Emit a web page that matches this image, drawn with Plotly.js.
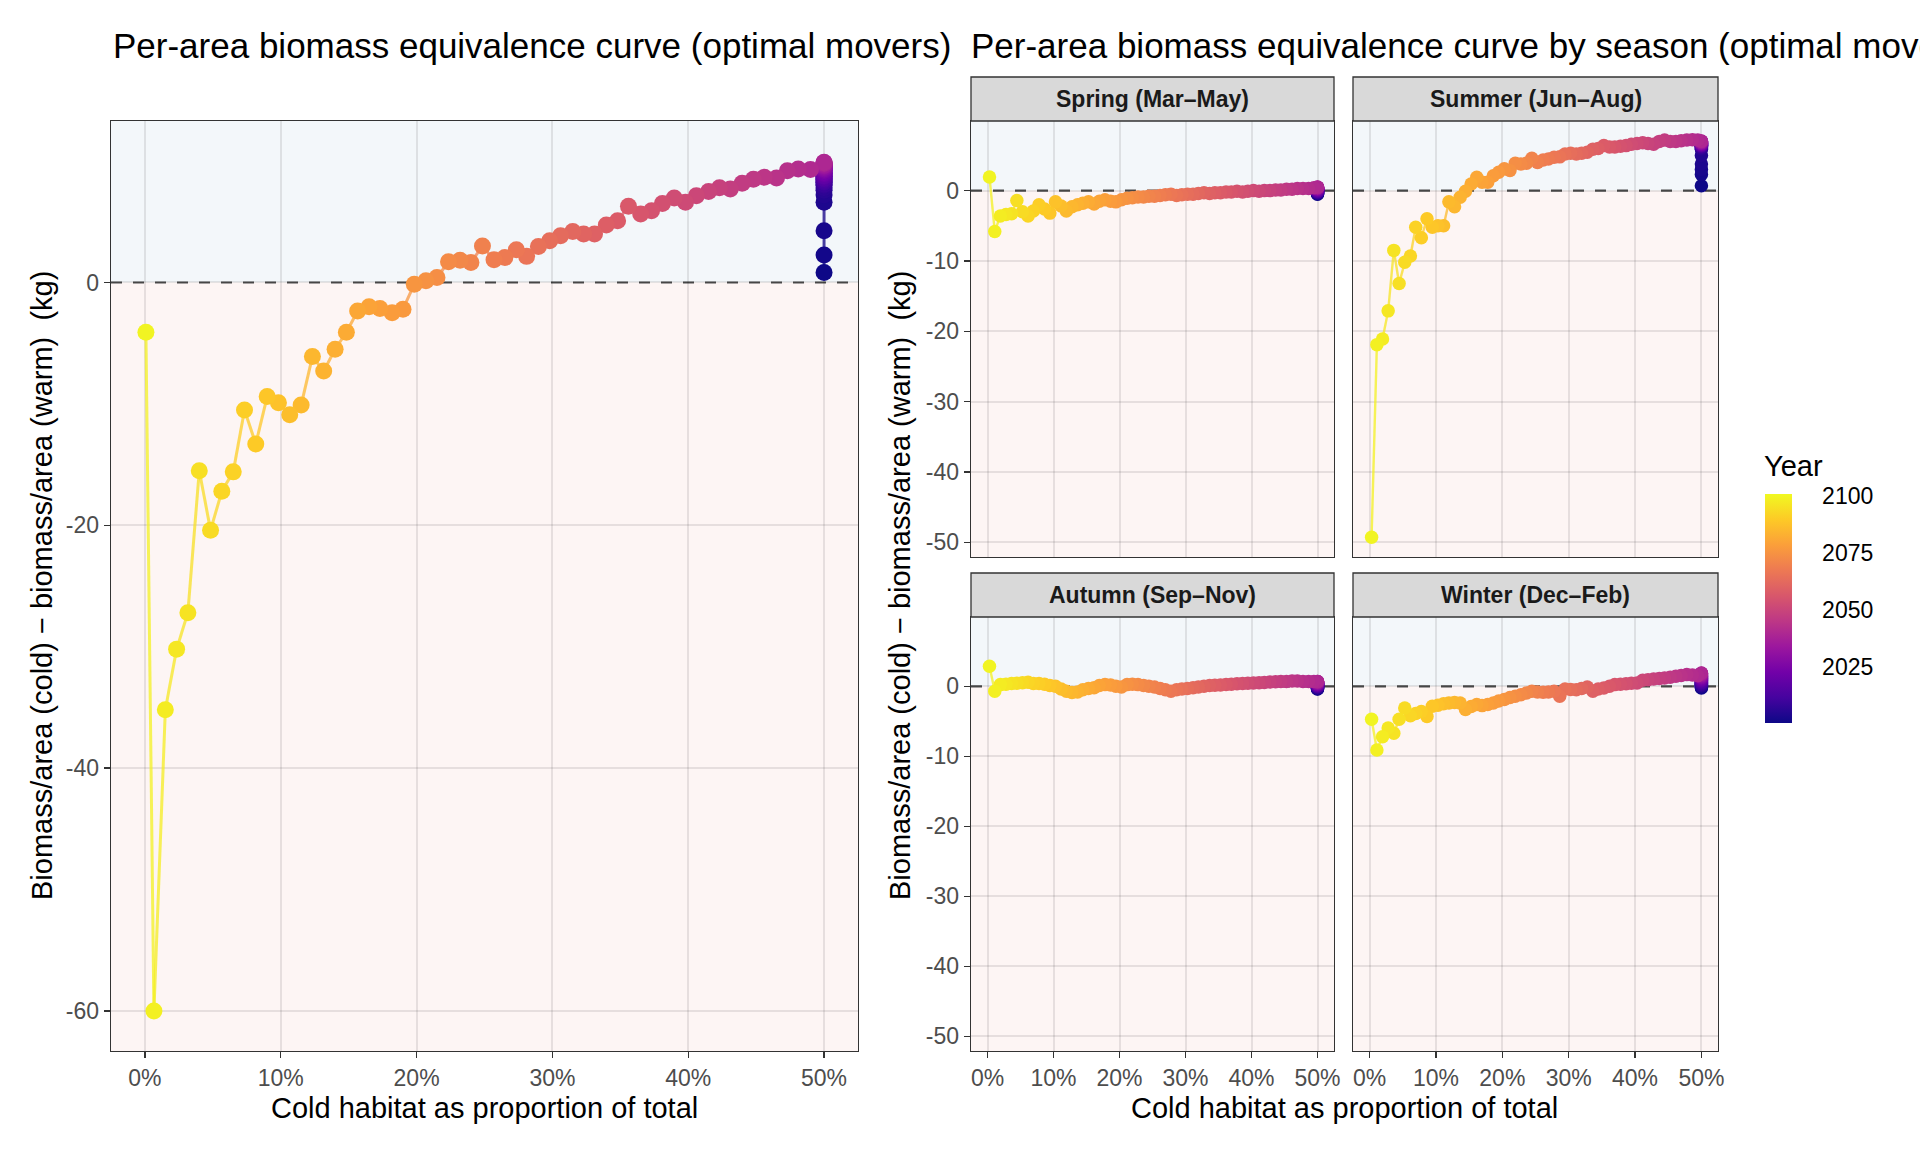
<!DOCTYPE html>
<html><head><meta charset="utf-8">
<script src="https://cdn.plot.ly/plotly-3.0.1.min.js"></script>
<style>html,body{margin:0;padding:0;background:#fff}</style>
</head><body><div id="chart" style="width:1920px;height:1152px"></div>
<script>
// All series listed from year 2100 back to year 2001 (index 0 = 2100)
const years = Array.from({length: 100}, (_, i) => 2100 - i);

const xOverall = [
  0.07, 0.66, 1.5, 2.33, 3.16, 4.0, 4.83, 5.66, 6.5, 7.33,
  8.16, 9.0, 9.83, 10.66, 11.5, 12.33, 13.16, 14.0, 14.83, 15.66,
  16.5, 17.3, 18.2, 19.0, 19.83, 20.69, 21.5, 22.35, 23.2, 24.0,
  24.85, 25.7, 26.5, 27.35, 28.1, 28.97, 29.8, 30.6, 31.5, 32.3,
  33.1, 33.97, 34.8, 35.6, 36.5, 37.3, 38.1, 38.97, 39.8, 40.6,
  41.5, 42.3, 43.1, 43.97, 44.8, 45.6, 46.5, 47.3, 48.1, 49.0,
  50, 50, 50, 50, 50, 50, 50, 50, 50, 50,
  50, 50, 50, 50, 50, 50, 50, 50, 50, 50,
  50, 50, 50, 50, 50, 50, 50, 50, 50, 50,
  50, 50, 50, 50, 50, 50, 50, 50, 50, 50
];
const yOverall = [
  -4.1, -60.0, -35.2, -30.2, -27.2, -15.5, -20.4, -17.2, -15.6, -10.5,
  -13.3, -9.4, -9.9, -10.9, -10.1, -6.1, -7.3, -5.5, -4.1, -2.35,
  -2.0, -2.15, -2.5, -2.2, -0.14, 0.14, 0.41, 1.7, 1.84, 1.65,
  3.0, 1.87, 2.06, 2.7, 2.15, 2.97, 3.44, 3.85, 4.2, 4.0,
  4.0, 4.73, 5.09, 6.27, 5.64, 5.9, 6.5, 6.96, 6.6, 7.15,
  7.5, 7.8, 7.7, 8.17, 8.5, 8.66, 8.6, 9.2, 9.35, 9.3,
  9.9, 9.85, 9.82, 9.8, 9.75, 9.7, 9.65, 9.62, 9.6, 9.55,
  9.5, 9.45, 9.4, 9.35, 9.3, 9.25, 9.2, 9.1, 9.05, 9.0,
  8.95, 8.9, 8.8, 8.75, 8.7, 8.6, 8.55, 8.5, 8.4, 8.3,
  8.25, 8.1, 8.0, 7.8, 7.6, 7.2, 6.6, 4.26, 2.26, 0.83
];
const xSeasonal = [
  0.3, 1.1, 1.95, 2.8, 3.65, 4.45, 5.3, 6.15, 6.95, 7.8,
  8.65, 9.45, 10.3, 11.15, 11.95, 12.8, 13.65, 14.45, 15.3, 16.15,
  16.95, 17.8, 18.65, 19.45, 20.3, 21.15, 21.95, 22.8, 23.65, 24.45,
  25.3, 26.15, 26.95, 27.8, 28.65, 29.45, 30.3, 31.15, 31.95, 32.8,
  33.65, 34.45, 35.3, 36.15, 36.95, 37.8, 38.65, 39.45, 40.3, 41.15,
  41.95, 42.8, 43.65, 44.45, 45.3, 46.15, 46.95, 47.8, 48.65, 49.45,
  50, 50, 50, 50, 50, 50, 50, 50, 50, 50,
  50, 50, 50, 50, 50, 50, 50, 50, 50, 50,
  50, 50, 50, 50, 50, 50, 50, 50, 50, 50,
  50, 50, 50, 50, 50, 50, 50, 50, 50, 50
];
const ySpring = [
  1.95, -5.8, -3.6, -3.4, -3.3, -1.4, -3.0, -3.6, -2.9, -2.0,
  -2.6, -3.2, -1.6, -2.2, -2.9, -2.3, -2.0, -1.8, -1.6, -1.9,
  -1.5, -1.3, -1.5, -1.6, -1.3, -1.1, -1.0, -0.9, -0.9, -0.8,
  -0.8, -0.7, -0.6, -0.5, -0.7, -0.6, -0.5, -0.5, -0.4, -0.3,
  -0.4, -0.3, -0.3, -0.2, -0.2, -0.1, -0.2, -0.1, 0.0, -0.1,
  0.0, 0.0, 0.1, 0.1, 0.2, 0.2, 0.3, 0.3, 0.3, 0.4,
  0.5, 0.48, 0.46, 0.45, 0.43, 0.42, 0.4, 0.38, 0.36, 0.35,
  0.33, 0.3, 0.28, 0.25, 0.22, 0.2, 0.18, 0.15, 0.12, 0.1,
  0.08, 0.05, 0.02, 0.0, -0.03, -0.05, -0.08, -0.1, -0.13, -0.15,
  -0.18, -0.2, -0.23, -0.26, -0.3, -0.33, -0.37, -0.4, -0.45, -0.5
];
const ySummer = [
  -49.3, -21.9, -21.1, -17.1, -8.5, -13.2, -10.2, -9.3, -5.2, -6.7,
  -4.0, -5.2, -5.0, -5.0, -1.6, -2.3, -0.95, -0.1, 0.95, 1.9,
  1.2, 1.2, 2.1, 2.6, 3.1, 2.85, 3.9, 3.8, 3.9, 4.6,
  4.0, 4.36, 4.5, 4.74, 4.8, 5.2, 5.3, 5.2, 5.3, 5.45,
  5.9, 6.0, 6.4, 6.2, 6.2, 6.3, 6.4, 6.6, 6.7, 6.8,
  6.7, 6.6, 7.0, 7.2, 7.0, 7.0, 7.1, 7.2, 7.25, 7.2,
  7.05, 7.03, 7.0, 6.98, 6.95, 6.92, 6.9, 6.88, 6.85, 6.82,
  6.8, 6.78, 6.75, 6.72, 6.7, 6.68, 6.65, 6.62, 6.6, 6.58,
  6.55, 6.52, 6.5, 6.48, 6.45, 6.42, 6.4, 6.38, 6.35, 6.3,
  6.25, 6.2, 6.1, 6.0, 5.9, 5.0, 3.8, 3.0, 2.3, 0.7
];
const yAutumn = [
  2.85, -0.7, 0.24, 0.3, 0.4, 0.45, 0.5, 0.57, 0.4, 0.4,
  0.3, 0.1, 0.0, -0.4, -0.7, -0.9, -0.8, -0.5, -0.3, -0.2,
  0.1, 0.24, 0.2, 0.0, -0.1, 0.24, 0.3, 0.24, 0.1, 0.0,
  -0.1, -0.3, -0.5, -0.7, -0.5, -0.4, -0.3, -0.2, -0.1, 0.0,
  0.1, 0.15, 0.2, 0.25, 0.3, 0.38, 0.4, 0.45, 0.47, 0.5,
  0.55, 0.6, 0.65, 0.7, 0.7, 0.75, 0.75, 0.7, 0.7, 0.7,
  0.7, 0.68, 0.66, 0.64, 0.62, 0.6, 0.58, 0.55, 0.52, 0.5,
  0.48, 0.45, 0.42, 0.4, 0.37, 0.35, 0.32, 0.3, 0.27, 0.25,
  0.22, 0.2, 0.17, 0.15, 0.12, 0.1, 0.07, 0.05, 0.02, 0.0,
  -0.03, -0.06, -0.1, -0.13, -0.17, -0.2, -0.25, -0.3, -0.35, -0.4
];
const yWinter = [
  -4.7, -9.1, -7.2, -5.95, -6.7, -4.7, -3.1, -4.2, -3.9, -3.6,
  -4.3, -2.86, -2.7, -2.5, -2.4, -2.3, -2.4, -3.3, -2.9, -2.6,
  -2.76, -2.6, -2.4, -2.1, -1.9, -1.6, -1.43, -1.2, -0.95, -0.7,
  -0.8, -0.86, -0.8, -0.7, -1.43, -0.38, -0.45, -0.5, -0.3, -0.1,
  -0.7, -0.4, -0.24, 0.0, 0.24, 0.3, 0.38, 0.45, 0.48, 0.86,
  0.95, 1.05, 1.1, 1.2, 1.3, 1.43, 1.55, 1.67, 1.6, 1.52,
  1.9, 1.86, 1.82, 1.78, 1.74, 1.7, 1.65, 1.6, 1.55, 1.5,
  1.45, 1.4, 1.35, 1.3, 1.25, 1.2, 1.15, 1.1, 1.05, 1.0,
  0.95, 0.9, 0.85, 0.8, 0.74, 0.68, 0.62, 0.56, 0.5, 0.44,
  0.38, 0.32, 0.26, 0.2, 0.14, 0.08, 0.02, -0.06, -0.15, -0.24
];

const xTickVals = [0, 10, 20, 30, 40, 50];
const xTickLabels = ['0%', '10%', '20%', '30%', '40%', '50%'];
const yTickValsOverall = [-60, -40, -20, 0];
const yTickLabelsOverall = ['-60', '-40', '-20', '0'];
const yTickValsSeason = [-50, -40, -30, -20, -10, 0];
const yTickLabelsSeason = ['-50', '-40', '-30', '-20', '-10', '0'];
const yearTicks = [2025, 2050, 2075, 2100];
const seasonNames = ['Spring (Mar\u2013May)', 'Summer (Jun\u2013Aug)', 'Autumn (Sep\u2013Nov)', 'Winter (Dec\u2013Feb)'];
const titleLeft = 'Per-area biomass equivalence curve (optimal movers)';
const titleRight = 'Per-area biomass equivalence curve by season (optimal movers)';
const yTitle = 'Biomass/area (cold) \u2212 biomass/area (warm)\u00a0 (kg)';
const xTitle = 'Cold habitat as proportion of total';
const legendTitle = 'Year';

// ---------- styling / layout ----------
const W = 1920, H = 1152;
const FONT = 'Liberation Sans, Arial, Helvetica, sans-serif';
const cLo = 2000.8, cHi = 2101.2;
const plasma = [[0,'#0d0887'],[0.1111,'#46039f'],[0.2222,'#7201a8'],[0.3333,'#9c179e'],[0.4444,'#bd3786'],[0.5556,'#d8576b'],[0.6667,'#ed7953'],[0.7778,'#fb9f3a'],[0.8889,'#fdca26'],[1,'#f0f921']];
function hex2rgb(h){return [parseInt(h.slice(1,3),16),parseInt(h.slice(3,5),16),parseInt(h.slice(5,7),16)];}
function colorFor(yr){
  let t = (yr - cLo) / (cHi - cLo); t = Math.max(0, Math.min(1, t));
  for (let i = 1; i < plasma.length; i++) {
    if (t <= plasma[i][0]) {
      const a = plasma[i-1], b = plasma[i];
      const f = (t - a[0]) / (b[0] - a[0]);
      const ca = hex2rgb(a[1]), cb = hex2rgb(b[1]);
      return 'rgb(' + ca.map((v,k)=>Math.round(v + (cb[k]-v)*f)).join(',') + ')';
    }
  }
  return plasma[plasma.length-1][1];
}
const px = v => v / W;
const py = v => 1 - v / H;

// panel pixel boxes [x0, x1, ytop, ybottom]
const boxes = {
  main: [111, 858, 121, 1051],
  spring: [971, 1334, 121, 557],
  summer: [1353, 1718, 121, 557],
  autumn: [971, 1334, 617, 1051],
  winter: [1353, 1718, 617, 1051]
};
const panels = [
  {key:'main', xa:'x', ya:'y', xs:xOverall, ys:yOverall, ms:17, lw:3, yr:[-63.3, 13.3]},
  {key:'spring', xa:'x2', ya:'y2', xs:xSeasonal, ys:ySpring, ms:13.5, lw:2.4, yr:[-52.1, 9.9]},
  {key:'summer', xa:'x3', ya:'y3', xs:xSeasonal, ys:ySummer, ms:13.5, lw:2.4, yr:[-52.1, 9.9]},
  {key:'autumn', xa:'x4', ya:'y4', xs:xSeasonal, ys:yAutumn, ms:13.5, lw:2.4, yr:[-52.1, 9.9]},
  {key:'winter', xa:'x5', ya:'y5', xs:xSeasonal, ys:yWinter, ms:13.5, lw:2.4, yr:[-52.1, 9.9]}
];

const traces = [];
const shapes = [];
panels.forEach((p, pi) => {
  const n = years.length;
  for (let i = n - 1; i >= 1; i--) {
    traces.push({
      type:'scatter', mode:'lines', xaxis:p.xa, yaxis:p.ya,
      x:[p.xs[i], p.xs[i-1]], y:[p.ys[i], p.ys[i-1]],
      line:{color:colorFor(years[i]), width:p.lw}, opacity:0.75,
      showlegend:false, hoverinfo:'skip'
    });
  }
  const ord = years.map((_, i) => i).reverse();
  const mk = {
    size:p.ms, color:ord.map(i => years[i]), colorscale:plasma, cmin:cLo, cmax:cHi,
    showscale: pi === 0, line:{width:0}
  };
  if (pi === 0) {
    mk.colorbar = {
      thickness:27, thicknessmode:'pixels', len:229, lenmode:'pixels',
      x:px(1764.5), xanchor:'left', y:py(608), yanchor:'middle', xpad:0, ypad:0,
      outlinewidth:0, tickvals:yearTicks, ticks:'outside', ticklen:26, tickcolor:'rgba(0,0,0,0)',
      tickfont:{size:23, color:'#000', family:FONT}
    };
  }
  traces.push({
    type:'scatter', mode:'markers', xaxis:p.xa, yaxis:p.ya,
    x:ord.map(i => p.xs[i]), y:ord.map(i => p.ys[i]),
    marker:mk, showlegend:false, hoverinfo:'skip'
  });
  shapes.push({type:'rect', layer:'below', xref:p.xa + ' domain', yref:p.ya, x0:0, x1:1, y0:0, y1:p.yr[1], fillcolor:'#f3f7fa', line:{width:0}});
  shapes.push({type:'rect', layer:'below', xref:p.xa + ' domain', yref:p.ya, x0:0, x1:1, y0:p.yr[0], y1:0, fillcolor:'#fdf5f4', line:{width:0}});
  shapes.push({type:'line', layer:'below', xref:p.xa + ' domain', yref:p.ya, x0:0, x1:1, y0:0, y1:0, line:{color:'#4d4d4d', width:2.2, dash:'11px,11px'}});
});

function axisBase(){
  return {showline:true, mirror:true, linecolor:'#333333', linewidth:1.3, zeroline:false,
    showgrid:true, gridcolor:'rgba(0,0,0,0.09)', gridwidth:2,
    tickfont:{size:23, color:'#4d4d4d', family:FONT}, tickcolor:'#333333', ticklen:6, tickwidth:1.3,
    fixedrange:true};
}
function xAxis(box, anchor, labels){
  return Object.assign(axisBase(), {domain:[px(box[0]), px(box[1])], anchor,
    range:[-2.5, 52.5], tickmode:'array', tickvals:xTickVals, ticktext:xTickLabels,
    showticklabels:labels, ticks:labels ? 'outside' : ''});
}
function yAxis(box, anchor, range, tv, tt, labels){
  return Object.assign(axisBase(), {domain:[py(box[3]), py(box[2])], anchor,
    range, tickmode:'array', tickvals:tv, ticktext:tt, showticklabels:labels, ticks:labels ? 'outside' : ''});
}

const annotations = [
  {text:titleLeft, x:px(111), y:py(45), xanchor:'left', yanchor:'middle', font:{size:35, color:'#000', family:FONT}},
  {text:titleRight, x:px(968.6), y:py(45), xanchor:'left', yanchor:'middle', font:{size:35, color:'#000', family:FONT}},
  {text:yTitle, x:px(42), y:py(586), textangle:-90, xanchor:'center', yanchor:'middle', font:{size:29, color:'#000', family:FONT}},
  {text:yTitle, x:px(900), y:py(586), textangle:-90, xanchor:'center', yanchor:'middle', font:{size:29, color:'#000', family:FONT}},
  {text:xTitle, x:px(484.5), y:py(1108), xanchor:'center', yanchor:'middle', font:{size:29, color:'#000', family:FONT}},
  {text:xTitle, x:px(1344.5), y:py(1108), xanchor:'center', yanchor:'middle', font:{size:29, color:'#000', family:FONT}},
  {text:legendTitle, x:px(1762), y:py(466), xanchor:'left', yanchor:'middle', font:{size:29, color:'#000', family:FONT}}
].map(a => Object.assign({xref:'paper', yref:'paper', showarrow:false}, a));

const stripBoxes = [
  [boxes.spring[0], boxes.spring[1], 77, 121],
  [boxes.summer[0], boxes.summer[1], 77, 121],
  [boxes.autumn[0], boxes.autumn[1], 573, 617],
  [boxes.winter[0], boxes.winter[1], 573, 617]
];
stripBoxes.forEach((b, i) => {
  shapes.push({type:'rect', xref:'paper', yref:'paper', x0:px(b[0]), x1:px(b[1]), y0:py(b[3]), y1:py(b[2]),
    fillcolor:'#d9d9d9', line:{color:'#333333', width:1.3}, layer:'above'});
  annotations.push({xref:'paper', yref:'paper', showarrow:false, text:'<b>' + seasonNames[i] + '</b>',
    x:px((b[0]+b[1])/2), y:py((b[2]+b[3])/2), xanchor:'center', yanchor:'middle',
    font:{size:23, color:'#1a1a1a', family:FONT}});
});

const layout = {
  width:W, height:H, margin:{l:0, r:0, t:0, b:0},
  paper_bgcolor:'#ffffff', plot_bgcolor:'#ffffff', showlegend:false, hovermode:false,
  font:{family:FONT},
  xaxis: xAxis(boxes.main, 'y', true),
  yaxis: yAxis(boxes.main, 'x', [-63.3, 13.3], yTickValsOverall, yTickLabelsOverall, true),
  xaxis2: xAxis(boxes.spring, 'y2', false),
  yaxis2: yAxis(boxes.spring, 'x2', [-52.1, 9.9], yTickValsSeason, yTickLabelsSeason, true),
  xaxis3: xAxis(boxes.summer, 'y3', false),
  yaxis3: yAxis(boxes.summer, 'x3', [-52.1, 9.9], yTickValsSeason, yTickLabelsSeason, false),
  xaxis4: xAxis(boxes.autumn, 'y4', true),
  yaxis4: yAxis(boxes.autumn, 'x4', [-52.1, 9.9], yTickValsSeason, yTickLabelsSeason, true),
  xaxis5: xAxis(boxes.winter, 'y5', true),
  yaxis5: yAxis(boxes.winter, 'x5', [-52.1, 9.9], yTickValsSeason, yTickLabelsSeason, false),
  shapes, annotations
};

Plotly.newPlot('chart', traces, layout, {displayModeBar:false, staticPlot:true});
</script>
</body></html>
